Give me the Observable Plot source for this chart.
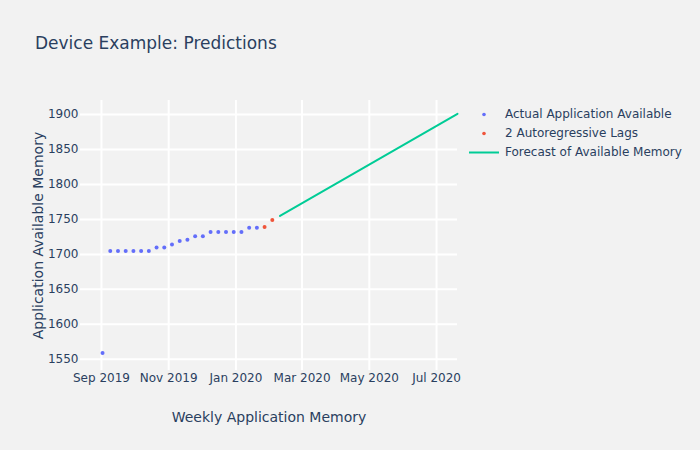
<!DOCTYPE html>
<html>
<head>
<meta charset="utf-8">
<script src="https://cdn.jsdelivr.net/npm/d3@7"></script>
<script src="https://cdn.jsdelivr.net/npm/@observablehq/plot@0.6"></script>
<style>
  html, body { margin: 0; padding: 0; background: #f2f2f2; }
  #wrap { position: relative; width: 700px; height: 450px; background: #f2f2f2; font-family: "DejaVu Sans", Verdana, sans-serif; color: #2a3f5f; overflow: hidden; }
  #title { position: absolute; left: 35px; top: 33px; font-size: 17px; line-height: 20px; white-space: nowrap; }
  #legend { position: absolute; left: 468px; top: 105px; font-size: 12px; }
  .item { position: relative; height: 19px; line-height: 19px; white-space: nowrap; }
  .item svg { position: absolute; left: 0; top: 0; }
  .item span { position: absolute; left: 37px; top: 0; }
  #chart { position: absolute; left: 0; top: 0; }
</style>
</head>
<body>
<div id="wrap">
  <div id="chart"></div>
  <div id="title"></div>
  <div id="legend"></div>
</div>
<script>
// ---- data ----
const chartTitle = "Device Example: Predictions";
const xTitle = "Weekly Application Memory";
const yTitle = "Application Available Memory";
const seriesNames = ["Actual Application Available", "2 Autoregressive Lags", "Forecast of Available Memory"];
const seriesColors = ["#636efa", "#EF553B", "#00cc96"];

const actualDates = ["2019-09-02","2019-09-09","2019-09-16","2019-09-23","2019-09-30","2019-10-07","2019-10-14",
  "2019-10-21","2019-10-28","2019-11-04","2019-11-11","2019-11-18","2019-11-25","2019-12-02",
  "2019-12-09","2019-12-16","2019-12-23","2019-12-30","2020-01-06","2020-01-13","2020-01-20"];
const actualValues = [1559,1705,1705,1705,1705,1705,1705,1710,1710,1714,1719,1721,1726,1726,1732,1732,1732,1732,1732,1738,1738];

const lagDates = ["2020-01-27","2020-02-03"];
const lagValues = [1739,1749];

const forecastDates = ["2020-02-10","2020-07-20"];
const forecastValues = [1755,1901];

const xDomain = ["2019-08-13","2020-07-20"];
const yDomain = [1534, 1920];
const xTicks = ["2019-09-01","2019-11-01","2020-01-01","2020-03-01","2020-05-01","2020-07-01"];
const yTicks = [1550,1600,1650,1700,1750,1800,1850,1900];

// ---- build ----
const toRows = (ds, vs) => ds.map((d, i) => ({date: new Date(d), value: vs[i]}));
const actual = toRows(actualDates, actualValues);
const lags = toRows(lagDates, lagValues);
const forecast = toRows(forecastDates, forecastValues);
const xTickDates = xTicks.map(d => new Date(d));
const fmt = d3.utcFormat("%b %Y");

const plot = Plot.plot({
  width: 700,
  height: 450,
  marginLeft: 80,
  marginRight: 243,
  marginTop: 100,
  marginBottom: 80,
  style: {background: "#f2f2f2", fontFamily: "'DejaVu Sans', Verdana, sans-serif", color: "#2a3f5f", overflow: "visible"},
  x: {type: "utc", domain: xDomain.map(d => new Date(d))},
  y: {domain: yDomain},
  marks: [
    Plot.gridY(yTicks, {stroke: "white", strokeOpacity: 1, strokeWidth: 2}),
    Plot.gridX(xTickDates, {stroke: "white", strokeOpacity: 1, strokeWidth: 2}),
    Plot.axisY(yTicks, {tickSize: 0, tickPadding: 2, fontSize: 12, label: null, fill: "#2a3f5f", tickFormat: d => String(d)}),
    Plot.axisX(xTickDates, {tickSize: 0, tickPadding: 3, fontSize: 12, label: null, tickFormat: fmt, fill: "#2a3f5f"}),
    Plot.text([xTitle], {text: d => d, frameAnchor: "bottom", dy: 47, textAnchor: "middle", lineAnchor: "middle", fontSize: 14, fill: "#2a3f5f"}),
    Plot.text([yTitle], {text: d => d, frameAnchor: "left", dx: -42, rotate: -90, textAnchor: "middle", lineAnchor: "middle", fontSize: 14, fill: "#2a3f5f"}),
    Plot.line(forecast, {x: "date", y: "value", stroke: seriesColors[2], strokeWidth: 2}),
    Plot.dot(actual, {x: "date", y: "value", r: 2, fill: seriesColors[0], stroke: "none"}),
    Plot.dot(lags, {x: "date", y: "value", r: 2, fill: seriesColors[1], stroke: "none"})
  ]
});
document.getElementById("chart").appendChild(plot);
document.getElementById("title").textContent = chartTitle;

const legend = document.getElementById("legend");
seriesNames.forEach((name, i) => {
  const item = document.createElement("div");
  item.className = "item";
  const sw = i < 2
    ? `<svg width="34" height="19"><circle cx="16" cy="9.5" r="1.8" fill="${seriesColors[i]}"/></svg>`
    : `<svg width="34" height="19"><line x1="1" x2="31" y1="9.5" y2="9.5" stroke="${seriesColors[i]}" stroke-width="2"/></svg>`;
  item.innerHTML = sw + `<span>${name}</span>`;
  legend.appendChild(item);
});
</script>
</body>
</html>
